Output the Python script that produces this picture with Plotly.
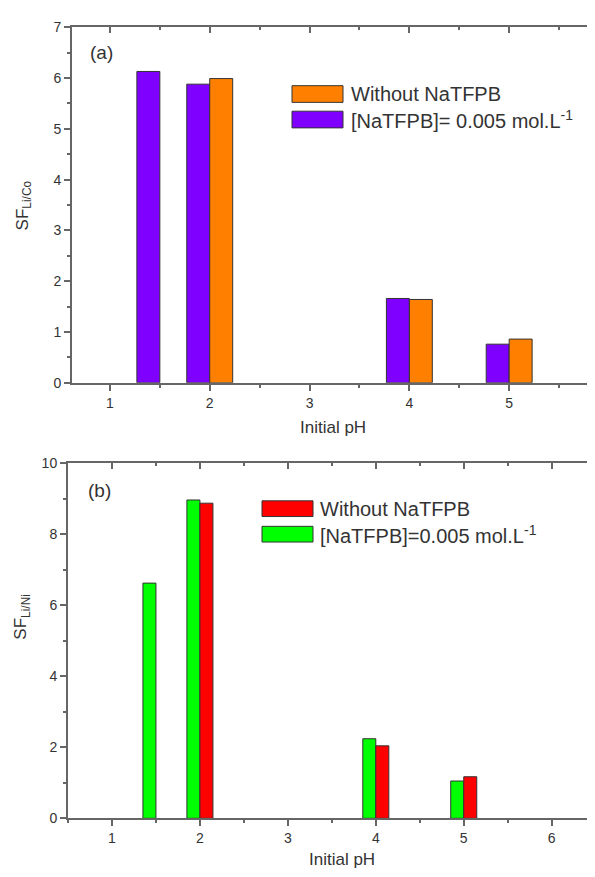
import plotly.graph_objects as go

OFF = 8          # page body margin around the plot div
W = 595
H = 877 - 2 * OFF  # keep page height within the window

# ---- data ----
ph_with = [1.5, 2, 4, 5]
ph_without = [2, 4, 5]
sf_co_with = [6.13, 5.88, 1.66, 0.76]
sf_co_without = [5.99, 1.64, 0.86]
sf_ni_with = [6.62, 8.96, 2.24, 1.05]
sf_ni_without = [8.87, 2.04, 1.17]

name_without = "Without NaTFPB"
name_with_a = "[NaTFPB]= 0.005 mol.L<sup>-1</sup>"
name_with_b = "[NaTFPB]=0.005 mol.L<sup>-1</sup>"

col_purple = "#7F00FF"
col_orange = "#FF8000"
col_green = "#00FF00"
col_red = "#FF0000"

xtitle = "Initial pH"
ytitle_a = "SF<sub>Li/Co</sub>"
ytitle_b = "SF<sub>Li/Ni</sub>"

FONT = "Liberation Sans, Arial, sans-serif"
AX = "#666666"
TXT = "#333333"
EDGE = "#333333"


def px(x):
    return (x - OFF) / W


def py(y):
    return 1 - (y - OFF) / H


wa, wb = 0.23, 0.148

fig = go.Figure()
fig.add_trace(go.Bar(x=ph_with, y=sf_co_with, width=wa, offset=-wa, name=name_with_a,
                     marker=dict(color=col_purple, line=dict(color=EDGE, width=1)),
                     xaxis="x", yaxis="y", showlegend=False))
fig.add_trace(go.Bar(x=ph_without, y=sf_co_without, width=wa, offset=0, name=name_without,
                     marker=dict(color=col_orange, line=dict(color=EDGE, width=1)),
                     xaxis="x", yaxis="y", showlegend=False))
fig.add_trace(go.Bar(x=ph_with, y=sf_ni_with, width=wb, offset=-wb, name=name_with_b,
                     marker=dict(color=col_green, line=dict(color=EDGE, width=1)),
                     xaxis="x2", yaxis="y2", showlegend=False))
fig.add_trace(go.Bar(x=ph_without, y=sf_ni_without, width=wb, offset=0, name=name_without,
                     marker=dict(color=col_red, line=dict(color=EDGE, width=1)),
                     xaxis="x2", yaxis="y2", showlegend=False))
# empty traces so overlay axes render
for xa, ya in [("x3", "y"), ("x", "y3"), ("x4", "y2"), ("x2", "y4")]:
    fig.add_trace(go.Scatter(x=[], y=[], xaxis=xa, yaxis=ya, showlegend=False, hoverinfo="skip"))

xr_a = [0.62, 5.88]
xr_b = [0.5, 6.515]
yr_a = [0, 7]
yr_b = [0, 10]

dom_xa = [px(72), px(597)]
dom_xb = [px(68), px(597)]
dom_ya = [py(381.7), py(19.5)]
dom_yb = [py(825.5), py(463.5)]

tickfont = dict(family=FONT, size=14, color=TXT)


def base_x(dom, rng, anchor):
    return dict(domain=dom, range=rng, anchor=anchor, showgrid=False, zeroline=False,
                showline=True, linecolor=AX, linewidth=2, ticks="outside", ticklen=6,
                tickwidth=1.5, tickcolor=AX, tick0=0, dtick=1, tickfont=tickfont,
                minor=dict(dtick=0.5, tick0=0, ticks="outside", ticklen=3, tickcolor=AX, tickwidth=1.5),
                fixedrange=True)


def base_y(dom, rng, anchor, dtick):
    return dict(domain=dom, range=rng, anchor=anchor, showgrid=False, zeroline=False,
                showline=True, linecolor=AX, linewidth=2, ticks="outside", ticklen=6,
                tickwidth=1.5, tickcolor=AX, tick0=0, dtick=dtick, tickfont=tickfont,
                minor=dict(dtick=dtick / 2, tick0=0, ticks="outside", ticklen=3, tickcolor=AX, tickwidth=1.5),
                fixedrange=True)


def top_x(over, rng, anchor):
    return dict(overlaying=over, side="top", anchor=anchor, range=rng, showgrid=False, zeroline=False,
                showline=True, linecolor=AX, linewidth=2, ticks="inside", ticklen=6, tickwidth=1.5,
                tickcolor=AX, tick0=0, dtick=1, showticklabels=False,
                minor=dict(dtick=0.5, tick0=0, ticks="inside", ticklen=3, tickcolor=AX, tickwidth=1.5),
                fixedrange=True)


def right_y(over, rng, anchor, dtick):
    return dict(overlaying=over, side="right", anchor=anchor, range=rng, showgrid=False, zeroline=False,
                showline=False, ticks="inside", ticklen=6, tickwidth=1.5,
                tickcolor=AX, tick0=0, dtick=dtick, showticklabels=False,
                minor=dict(dtick=dtick / 2, tick0=0, ticks="inside", ticklen=3, tickcolor=AX, tickwidth=1.5),
                fixedrange=True)


fig.update_layout(
    width=W, height=H,
    margin=dict(l=0, r=0, t=0, b=0),
    paper_bgcolor="white", plot_bgcolor="white",
    barmode="overlay",
    font=dict(family=FONT, color=TXT),
    xaxis=base_x(dom_xa, xr_a, "y"),
    yaxis=base_y(dom_ya, yr_a, "x", 1),
    xaxis2=base_x(dom_xb, xr_b, "y2"),
    yaxis2=base_y(dom_yb, yr_b, "x2", 2),
    xaxis3=top_x("x", xr_a, "y"),
    yaxis3=right_y("y", yr_a, "x", 1),
    xaxis4=top_x("x2", xr_b, "y2"),
    yaxis4=right_y("y2", yr_b, "x2", 2),
)

ann = []
shapes = []
# axis titles
ann.append(dict(text=xtitle, x=px(333), y=py(427), xref="paper", yref="paper", showarrow=False,
                font=dict(family=FONT, size=17, color=TXT), xanchor="center", yanchor="middle"))
ann.append(dict(text=xtitle, x=px(342), y=py(867), xref="paper", yref="paper", showarrow=False,
                font=dict(family=FONT, size=17, color=TXT), xanchor="center", yanchor="middle"))
ann.append(dict(text=ytitle_a, x=px(24), y=py(201), xref="paper", yref="paper", showarrow=False,
                textangle=-90, font=dict(family=FONT, size=17, color=TXT), xanchor="center", yanchor="middle"))
ann.append(dict(text=ytitle_b, x=px(22), y=py(620), xref="paper", yref="paper", showarrow=False,
                textangle=-90, font=dict(family=FONT, size=17, color=TXT), xanchor="center", yanchor="middle"))
# panel labels
ann.append(dict(text="(a)", x=px(88), y=py(45), xref="paper", yref="paper", showarrow=False,
                font=dict(family=FONT, size=19, color=TXT), xanchor="left", yanchor="middle"))
ann.append(dict(text="(b)", x=px(86), y=py(491), xref="paper", yref="paper", showarrow=False,
                font=dict(family=FONT, size=19, color=TXT), xanchor="left", yanchor="middle"))

# custom legends
legends = [
    (292, 343, 79, 96, col_orange, name_without, 349),
    (292, 343, 105, 122, col_purple, name_with_a, 349),
    (262, 313, 502, 518, col_red, name_without, 318),
    (262, 313, 528, 544, col_green, name_with_b, 318),
]
for x0, x1, y0, y1, c, t, tx in legends:
    shapes.append(dict(type="rect", xref="paper", yref="paper", x0=px(x0), x1=px(x1), y0=py(y1), y1=py(y0),
                       fillcolor=c, line=dict(color=EDGE, width=1)))
    ann.append(dict(text=t, x=px(tx), y=py((y0 + y1) / 2), xref="paper", yref="paper", showarrow=False,
                    font=dict(family=FONT, size=20, color=TXT), xanchor="left", yanchor="middle"))

fig.update_layout(annotations=ann, shapes=shapes)
fig.write_html("out.html")
